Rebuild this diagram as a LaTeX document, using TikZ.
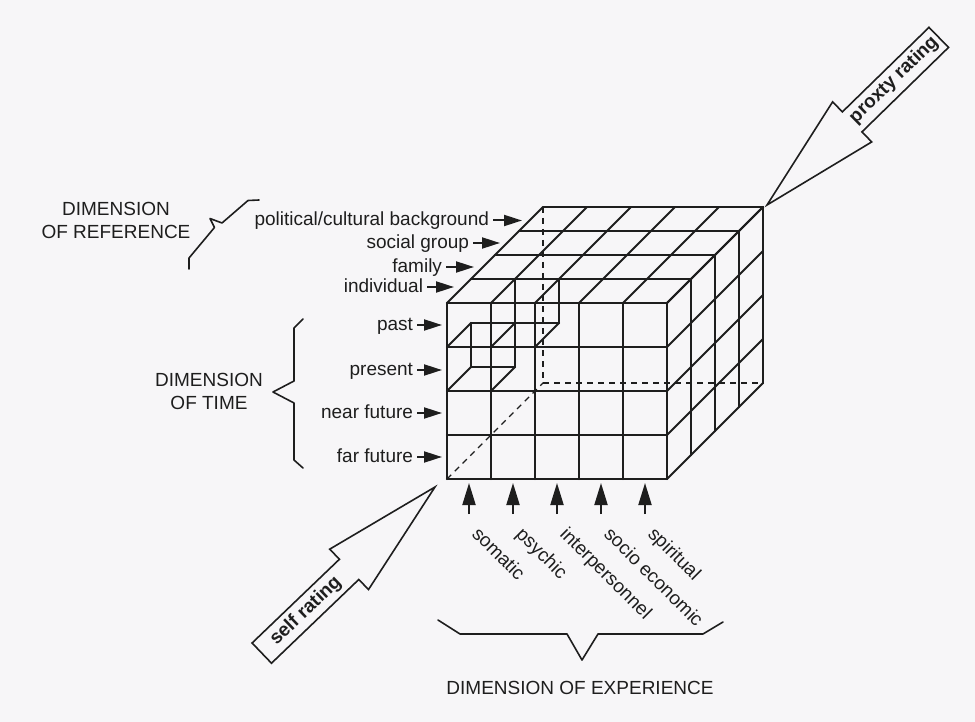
\documentclass[tikz,border=0pt]{standalone}
\usepackage{fontspec}
\setmainfont{Liberation Sans}
\usetikzlibrary{arrows.meta}
\definecolor{ink}{HTML}{1E1E1E}
\definecolor{paper}{HTML}{F7F6F8}
\begin{document}
\begin{tikzpicture}[x=1pt,y=-1pt,
  every node/.style={font=\fontsize{19}{22}\selectfont, text=ink, inner sep=0pt},
  grid/.style={draw=ink, line width=2.1pt, line cap=round},
  hidden/.style={draw=ink, line width=1.4pt, dash pattern=on 6pt off 5pt},
  lab/.style={anchor=east, text height=15pt, text depth=4pt, outer sep=4pt},
  labarrow/.style={draw=ink, line width=2pt, -{Triangle[length=18pt,width=11pt]}},
  uparrow/.style={draw=ink, line width=2pt, -{Triangle[length=22pt,width=13pt]}},
  brace/.style={draw=ink, line width=1.6pt, line join=round, line cap=round},
  dimtext/.style={align=center, font=\fontsize{19}{23}\selectfont},
  exptext/.style={anchor=base west, rotate=-45},
  rating/.style={font=\fontsize{19}{22}\selectfont\bfseries},
  bigarrow/.pic={\draw[ink, line width=1.6pt, line join=miter]
     (0,0) -- (-119,28) -- (-119,14) -- (-240,14) -- (-240,-14)
     -- (-119,-14) -- (-119,-28) -- cycle;}
]
\fill[paper] (0,0) rectangle (975,722);
\useasboundingbox (0,0) rectangle (975,722);

% ---------------- cube ----------------
\begin{scope}[shift={(447,303)}, x={(44pt,0pt)}, y={(0pt,-44pt)}, z={(24pt,24pt)}]
  % hidden edges
  \draw[hidden] (0,0,4) -- (0,4,4) -- (5,4,4);
  \draw[hidden] (0,4,0) -- (0,4,4);
  % front face
  \foreach \v in {0,...,4} \draw[grid] (0,\v,0) -- (5,\v,0);
  \foreach \u in {0,...,5} \draw[grid] (\u,0,0) -- (\u,4,0);
  % top face
  \foreach \w in {1,...,4} \draw[grid] (0,0,\w) -- (5,0,\w);
  \foreach \u in {0,...,5} \draw[grid] (\u,0,0) -- (\u,0,4);
  % right face
  \foreach \w in {1,...,4} \draw[grid] (5,0,\w) -- (5,4,\w);
  \foreach \v in {0,...,4} \draw[grid] (5,\v,0) -- (5,\v,4);
  % inner cells (second layer)
  \draw[grid] (0,1,1) -- (0,2,1);
  \draw[grid] (1,0,1) -- (1,2,1);
  \draw[grid] (2,0,1) -- (2,1,1);
  \draw[grid] (0,1,1) -- (2,1,1);
  \draw[grid] (0,2,1) -- (1,2,1);
  \draw[grid] (0,1,0) -- (0,1,1);
  \draw[grid] (0,2,0) -- (0,2,1);
  \draw[grid] (1,1,0) -- (1,1,1);
  \draw[grid] (1,2,0) -- (1,2,1);
  \draw[grid] (2,1,0) -- (2,1,1);
\end{scope}

% ---------------- dimension of reference ----------------
\node[lab] (pol) at (493,220.5) {political/cultural background};
\coordinate (polT) at (522,220.5);
\draw[labarrow] (pol) -- (polT);
\node[lab] (soc) at (473,243) {social group};
\coordinate (socT) at (500,243);
\draw[labarrow] (soc) -- (socT);
\node[lab] (fam) at (446,267) {family};
\coordinate (famT) at (474,267);
\draw[labarrow] (fam) -- (famT);
\node[lab] (ind) at (427,287) {individual};
\coordinate (indT) at (454,287);
\draw[labarrow] (ind) -- (indT);

\node[dimtext] (dref) at (116,220.5) {DIMENSION\\OF REFERENCE};
\draw[brace] (259,200) -- (248,200.5) -- (222,223) -- (210,218.5) -- (214.5,227.5) -- (189,258) -- (189,269);

% ---------------- dimension of time ----------------
\node[lab] (past) at (417,325) {past};
\coordinate (pastT) at (442,325);
\draw[labarrow] (past) -- (pastT);
\node[lab] (pres) at (417,370) {present};
\coordinate (presT) at (442,370);
\draw[labarrow] (pres) -- (presT);
\node[lab] (near) at (417,413) {near future};
\coordinate (nearT) at (442,413);
\draw[labarrow] (near) -- (nearT);
\node[lab] (far) at (417,457) {far future};
\coordinate (farT) at (442,457);
\draw[labarrow] (far) -- (farT);

\node[dimtext] (dtime) at (209,391) {DIMENSION\\OF TIME};
\draw[brace] (303,319) -- (294,328) -- (294,381) -- (273,392) -- (294,403) -- (294,460) -- (303,468);

% ---------------- dimension of experience ----------------
\foreach \i/\name/\txt in {0/som/somatic, 1/psy/psychic, 2/inter/interpersonnel, 3/socio/socio economic, 4/spir/spiritual}{
  \coordinate (\name B) at ({469+44*\i},514);
  \coordinate (\name T) at ({469+44*\i},483);
  \draw[uparrow] (\name B) -- (\name T);
  \node[exptext] (\name) at ({471+44*\i},535) {\txt};
}
\draw[brace] (438,620) -- (460,634) -- (567,634) -- (582,660) -- (598,634) -- (703,634) -- (723,622);
\node (dexp) at (580,688) {DIMENSION OF EXPERIENCE};

% ---------------- rating arrows ----------------
\pic[rotate=43.8] at (435,487) {bigarrow};
\node[rating, rotate=43.8] (self) at (306,611) {self rating};
\pic[rotate=224.3] at (767,205) {bigarrow};
\node[rating, rotate=44.3] (proxy) at (894,80) {proxty rating};
\end{tikzpicture}
\end{document}
